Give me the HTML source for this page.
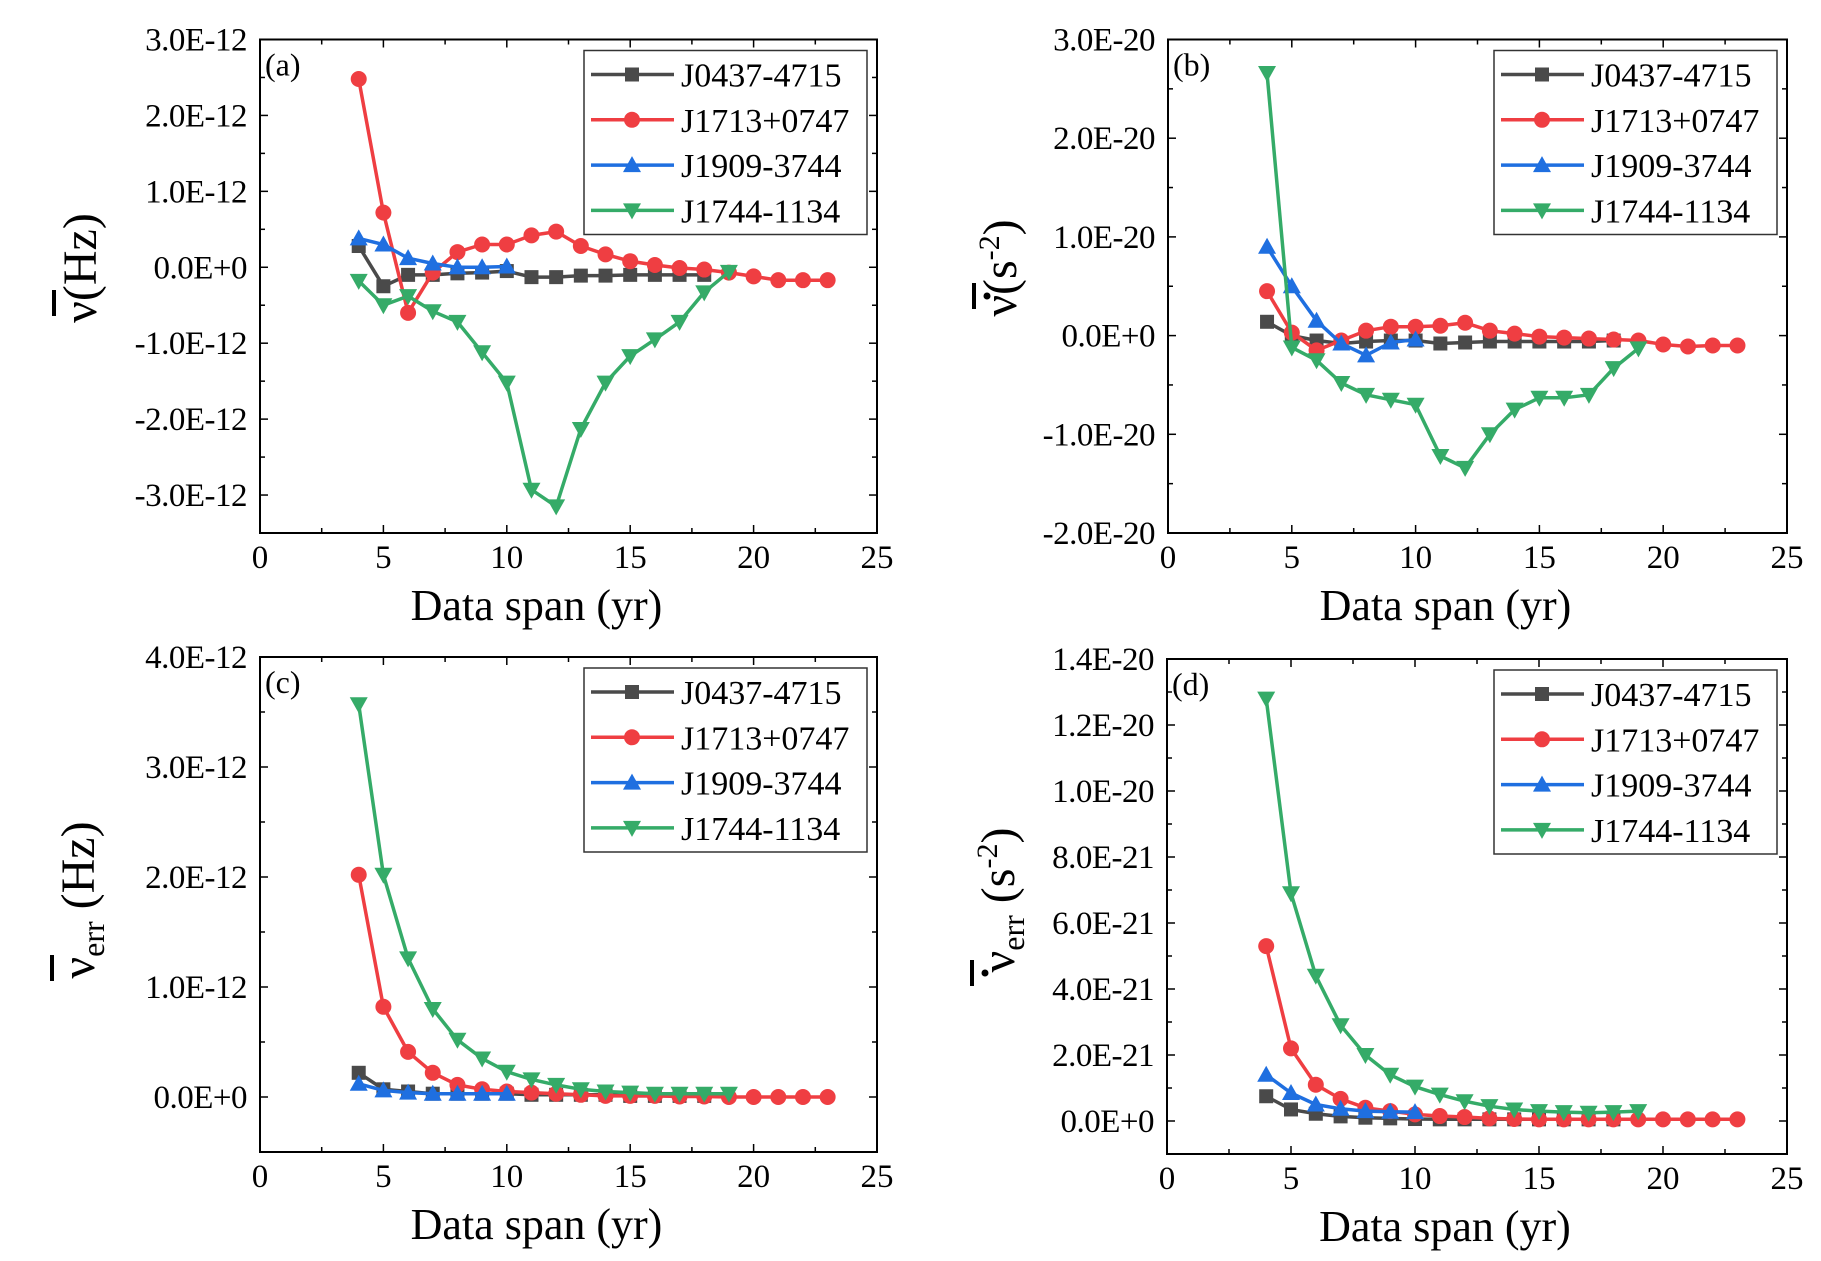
<!DOCTYPE html>
<html><head><meta charset="utf-8"><style>
html,body{margin:0;padding:0;background:#fff;}
svg{display:block;font-family:"Liberation Serif",serif;}
</style></head><body>
<svg id="s" width="1821" height="1261" xmlns="http://www.w3.org/2000/svg"></svg>
<script>
const C={k:'#4a4a4a',r:'#ef3e42',b:'#1f6fe0',g:'#35ab68'};
const P=[
 {x0:260,x1:877,y0:39.5,y1:533,ymin:-3.5,ymax:3.0,ticks:[3,2,1,0,-1,-2,-3],lab:['3.0E-12','2.0E-12','1.0E-12','0.0E+0','-1.0E-12','-2.0E-12','-3.0E-12'],tag:'(a)',
  s:{k:[4,[0.28,-0.25,-0.1,-0.1,-0.08,-0.07,-0.05,-0.13,-0.13,-0.11,-0.11,-0.1,-0.1,-0.1,-0.1]],
     r:[4,[2.48,0.72,-0.6,-0.07,0.2,0.3,0.3,0.42,0.47,0.28,0.17,0.08,0.03,-0.01,-0.03,-0.07,-0.12,-0.17,-0.17,-0.17]],
     b:[4,[0.38,0.3,0.12,0.05,0.0,0.0,0.01]],
     g:[4,[-0.18,-0.5,-0.38,-0.58,-0.72,-1.12,-1.52,-2.93,-3.15,-2.13,-1.52,-1.17,-0.95,-0.72,-0.33,-0.06]]},
  ylab:'a',lx:80,ly:268},
 {x0:1168,x1:1787,y0:39.5,y1:533,ymin:-2,ymax:3,ticks:[3,2,1,0,-1,-2],lab:['3.0E-20','2.0E-20','1.0E-20','0.0E+0','-1.0E-20','-2.0E-20'],tag:'(b)',
  s:{k:[4,[0.14,0.0,-0.05,-0.08,-0.06,-0.05,-0.05,-0.08,-0.07,-0.06,-0.06,-0.06,-0.06,-0.06,-0.05]],
     r:[4,[0.45,0.03,-0.15,-0.05,0.05,0.09,0.09,0.1,0.13,0.05,0.02,-0.01,-0.02,-0.03,-0.04,-0.05,-0.09,-0.11,-0.1,-0.1]],
     b:[4,[0.9,0.5,0.15,-0.08,-0.2,-0.07,-0.04]],
     g:[4,[2.66,-0.12,-0.25,-0.48,-0.6,-0.65,-0.7,-1.22,-1.34,-1.0,-0.75,-0.63,-0.63,-0.6,-0.33,-0.13]]},
  ylab:'b',lx:1000,ly:268},
 {x0:260,x1:877,y0:657,y1:1152,ymin:-0.5,ymax:4,ticks:[4,3,2,1,0],lab:['4.0E-12','3.0E-12','2.0E-12','1.0E-12','0.0E+0'],tag:'(c)',
  s:{k:[4,[0.22,0.07,0.05,0.03,0.03,0.03,0.03,0.02,0.02,0.02,0.02,0.01,0.01,0.01,0.01]],
     r:[4,[2.02,0.82,0.41,0.22,0.11,0.07,0.05,0.04,0.03,0.02,0.01,0.01,0.01,0.005,0.005,0.0,0.0,0.0,0.0,0.0]],
     b:[4,[0.12,0.06,0.04,0.03,0.03,0.03,0.03]],
     g:[4,[3.57,2.02,1.26,0.8,0.52,0.35,0.23,0.16,0.11,0.07,0.05,0.04,0.03,0.03,0.03,0.03]]},
  ylab:'c',lx:78,ly:900},
 {x0:1167,x1:1787,y0:659,y1:1154,ymin:-0.1,ymax:1.4,ticks:[1.4,1.2,1.0,0.8,0.6,0.4,0.2,0],lab:['1.4E-20','1.2E-20','1.0E-20','8.0E-21','6.0E-21','4.0E-21','2.0E-21','0.0E+0'],tag:'(d)',
  s:{k:[4,[0.075,0.035,0.022,0.014,0.01,0.008,0.006,0.005,0.005,0.005,0.005,0.005,0.005,0.005,0.005]],
     r:[4,[0.53,0.22,0.11,0.067,0.04,0.03,0.02,0.015,0.012,0.008,0.006,0.005,0.005,0.005,0.005,0.005,0.005,0.005,0.005,0.005]],
     b:[4,[0.14,0.085,0.05,0.037,0.03,0.028,0.027]],
     g:[4,[1.28,0.69,0.44,0.29,0.2,0.14,0.104,0.08,0.06,0.045,0.035,0.03,0.027,0.025,0.027,0.03]]},
  ylab:'d',lx:998,ly:900}
];
let h='';
function mk(c,x,y){const f=C[c];
 if(c=='k')return `<rect x="${x-7}" y="${y-7}" width="14" height="14" fill="${f}"/>`;
 if(c=='r')return `<circle cx="${x}" cy="${y}" r="8" fill="${f}"/>`;
 if(c=='b')return `<polygon points="${x},${y-9} ${x-9},${y+7} ${x+9},${y+7}" fill="${f}"/>`;
 return `<polygon points="${x},${y+9} ${x-9},${y-7} ${x+9},${y-7}" fill="${f}"/>`;}
for(const p of P){
 const X=v=>p.x0+(p.x1-p.x0)*v/25, Y=v=>p.y1-(p.y1-p.y0)*(v-p.ymin)/(p.ymax-p.ymin);
 for(const c of ['k','r','b','g']){const [s,a]=p.s[c];
  const pts=a.map((v,i)=>X(s+i).toFixed(1)+','+Y(v).toFixed(1)).join(' ');
  h+=`<polyline points="${pts}" fill="none" stroke="${C[c]}" stroke-width="3.5" stroke-linejoin="round"/>`;
  a.forEach((v,i)=>h+=mk(c,X(s+i),Y(v)));}
 h+=`<rect x="${p.x0}" y="${p.y0}" width="${p.x1-p.x0}" height="${p.y1-p.y0}" fill="none" stroke="#000" stroke-width="2"/>`;
 for(let v=0;v<=25;v+=2.5){const L=(v%5==0)?8:5,x=X(v);
  h+=`<line x1="${x}" y1="${p.y1}" x2="${x}" y2="${p.y1-L}" stroke="#000" stroke-width="1.5"/><line x1="${x}" y1="${p.y0}" x2="${x}" y2="${p.y0+L}" stroke="#000" stroke-width="1.5"/>`;
  if(v%5==0)h+=`<text x="${x}" y="${p.y1+35}" font-size="33" text-anchor="middle">${v}</text>`;}
 const st=(p.ticks[0]-p.ticks[1])/2;
 for(let v=p.ymin;v<=p.ymax+1e-9;v+=st){const y=Y(v);const maj=p.ticks.some(t=>Math.abs(t-v)<1e-6);const L=maj?8:5;
  h+=`<line x1="${p.x0}" y1="${y}" x2="${p.x0+L}" y2="${y}" stroke="#000" stroke-width="1.5"/><line x1="${p.x1}" y1="${y}" x2="${p.x1-L}" y2="${y}" stroke="#000" stroke-width="1.5"/>`;}
 p.ticks.forEach((t,i)=>h+=`<text x="${p.x0-13}" y="${Y(t)+11}" font-size="33" text-anchor="end" letter-spacing="-0.5">${p.lab[i]}</text>`);
 h+=`<text x="${p.x0+5}" y="${p.y0+36}" font-size="32">${p.tag}</text>`;
 h+=`<text x="${(p.x0+p.x1)/2-32}" y="${p.y1+87}" font-size="44" text-anchor="middle">Data span (yr)</text>`;
 const lx=p.x1-293,ly=p.y0+11;
 h+=`<rect x="${lx}" y="${ly}" width="283" height="184" fill="#fff" stroke="#333" stroke-width="1.5"/>`;
 ['k','r','b','g'].forEach((c,i)=>{const y=ly+24+i*45.3;
  h+=`<line x1="${lx+7}" y1="${y}" x2="${lx+90}" y2="${y}" stroke="${C[c]}" stroke-width="3.5"/>`+mk(c,lx+48,y);
  h+=`<text x="${lx+97}" y="${y+12}" font-size="34">${['J0437-4715','J1713+0747','J1909-3744','J1744-1134'][i]}</text>`;});
 let t;
 if(p.ylab=='a') t=`<tspan>ν(Hz)</tspan>`;
 else if(p.ylab=='b') t=`<tspan>ν(s</tspan><tspan font-size="30" dy="-17">-2</tspan><tspan dy="17">)</tspan>`;
 else if(p.ylab=='c') t=`<tspan>ν</tspan><tspan font-size="32" dy="10">err</tspan><tspan dy="-10"> (Hz)</tspan>`;
 else t=`<tspan>ν</tspan><tspan font-size="32" dy="10">err</tspan><tspan dy="-10">  (s</tspan><tspan font-size="30" dy="-17">-2</tspan><tspan dy="17">)</tspan>`;
 h+=`<g transform="translate(${p.lx+16},${p.ly}) rotate(-90)"><text x="0" y="0" font-size="48" text-anchor="middle">${t}</text></g>`;
 const bx=p.lx-28, by0=p.ylab=='a'?290:(p.ylab=='b'?283:(p.ylab=='c'?955:960));
 h+=`<rect x="${bx}" y="${by0}" width="4" height="26" fill="#000"/>`;
 if(p.ylab=='b'||p.ylab=='d')h+=`<circle cx="${bx+15}" cy="${by0+13}" r="3.5" fill="#000"/>`;
}
document.getElementById('s').innerHTML=h;
</script>
</body></html>
